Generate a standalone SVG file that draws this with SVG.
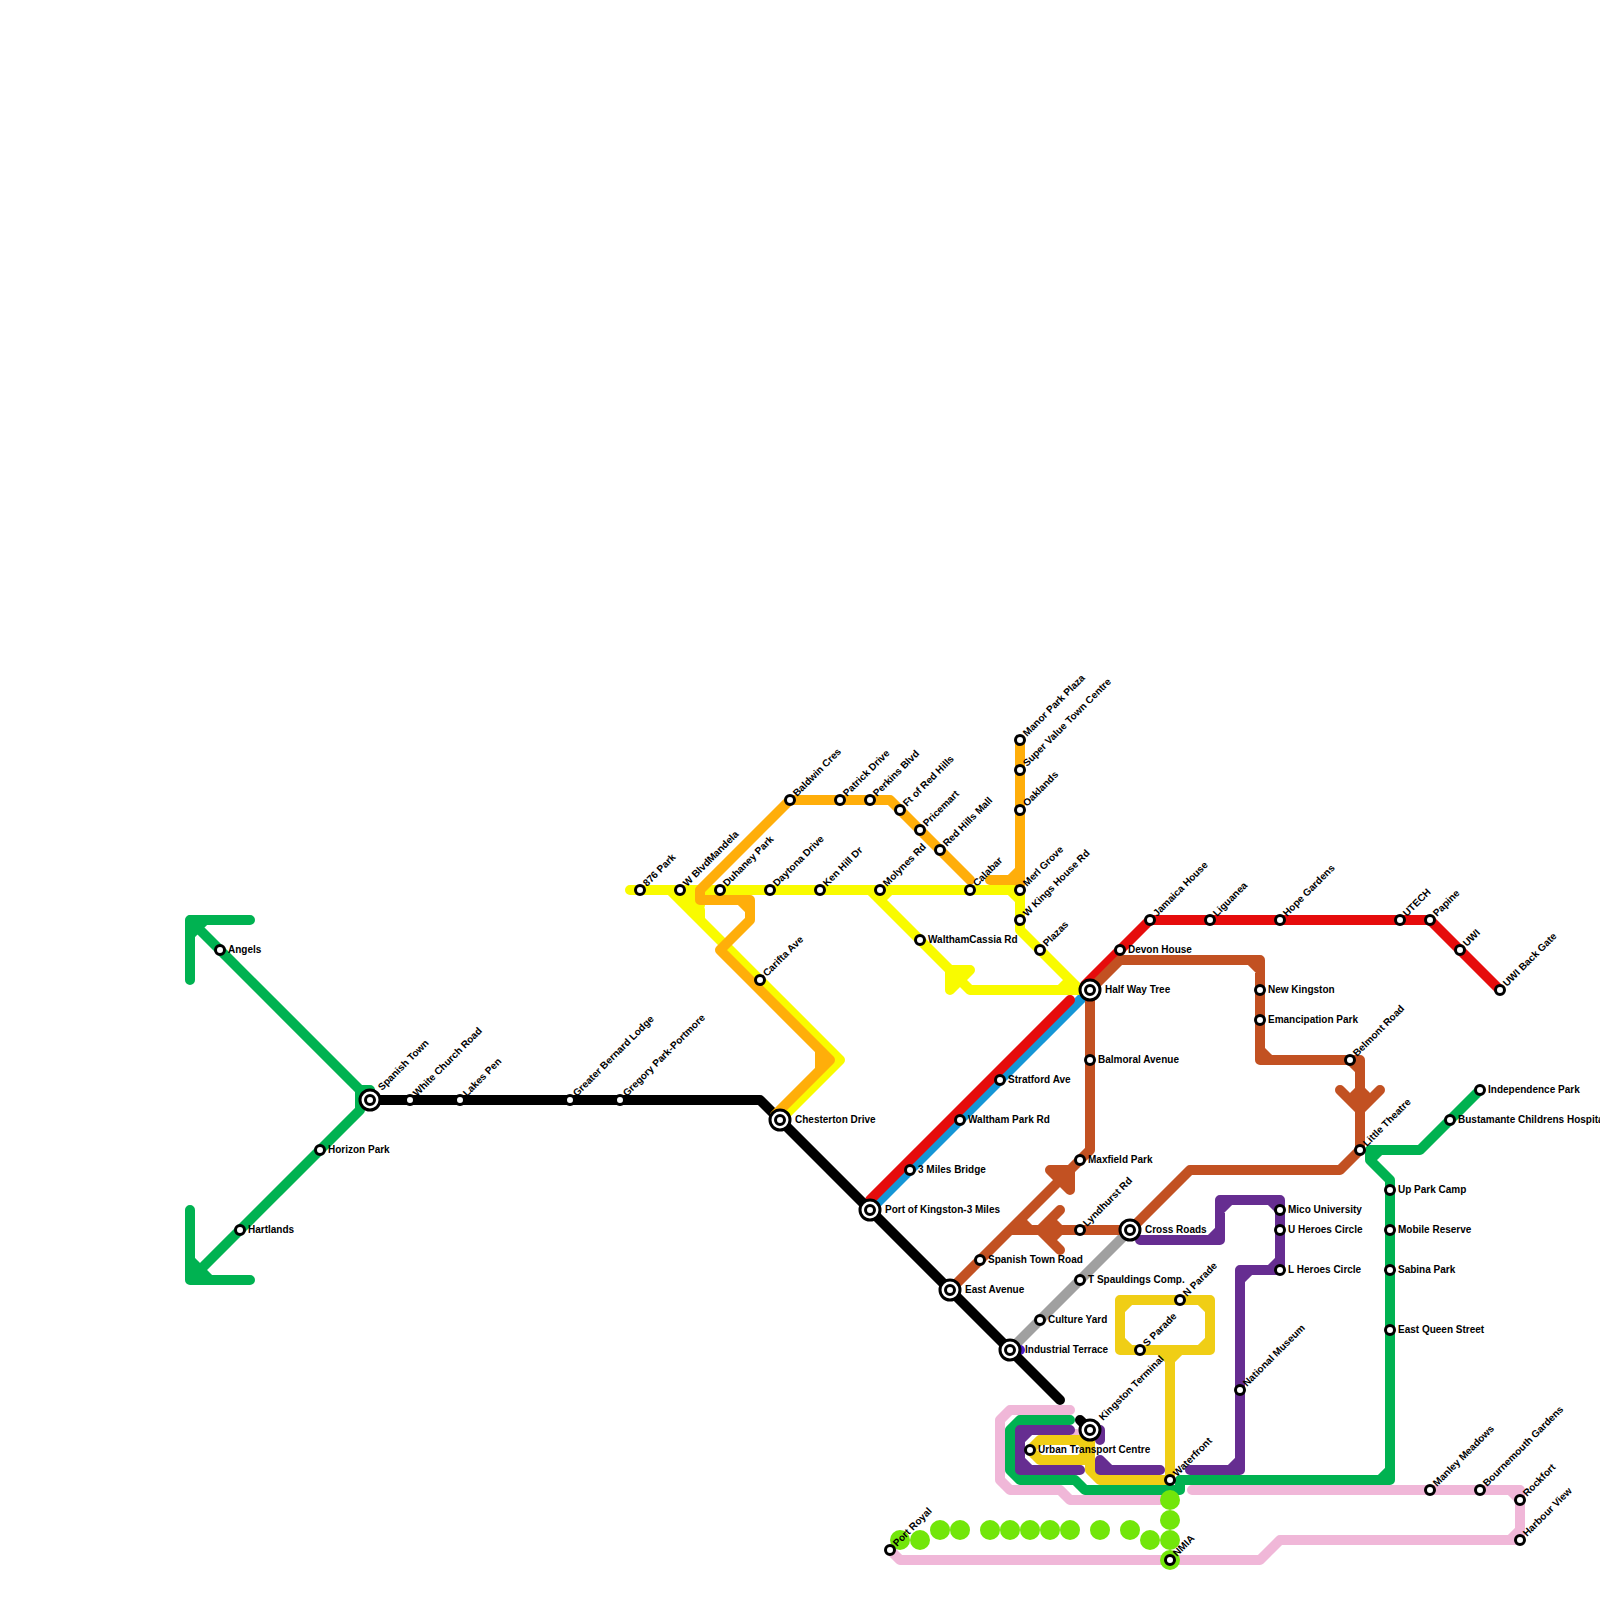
<svg xmlns="http://www.w3.org/2000/svg" width="1600" height="1600" viewBox="0 0 1600 1600">
<style>
.l{fill:none;stroke-width:10;stroke-linecap:round;stroke-linejoin:round}
.pink{stroke:#f0b7d8}.green{stroke:#00b251}.black{stroke:#000}.yellow{stroke:#f9fb00}.orange{stroke:#ffae0a}.red{stroke:#e60c0c}.blue{stroke:#1596d6}.brown{stroke:#c25122}.purple{stroke:#662d91}.gold{stroke:#f0ce15}.grey{stroke:#a0a0a0}.indigo{stroke:#4b1fc8}
.dot{fill:#72e60a}
.s{fill:#fff;stroke:#000;stroke-width:3}
text{font-family:"Liberation Sans",Arial,sans-serif;font-size:10px;font-weight:bold;fill:#000}
</style>
<rect width="1600" height="1600" fill="#fff"/>
<g id="connectors">
<path class="l pink" d="M1070 1410H1010L1000 1420V1480L1010 1490H1060L1070 1500H1160M1192 1490H1520V1540H1280L1260 1560H900L890 1550M1510 1490L1520 1500M1510 1540L1520 1530M1076 1434L1086 1442"/>
<path class="l blue" d="M870 1210L1090 990"/>
<path class="l red" d="M870 1200L1070 1000M1085 985L1150 920H1430L1500 990"/>
<path class="l green" d="M250 920H190V980M190 920L360 1090H370M360 1090V1110L190 1280M190 1210V1280H250M190 935L205 920M190 1260L210 1280M1480 1090L1420 1150H1370V1160L1390 1180V1480H1180V1490H1085L1075 1480H1020L1010 1470V1430L1020 1420H1070M1370 1160L1380 1150M1380 1480L1390 1470"/>
<path class="l grey" d="M1130 1230L1010 1350"/>
<path class="l indigo" d="M1010 1350H1020"/>
<path class="l gold" d="M1170 1350H1120V1300H1210V1350H1170V1480H1100L1090 1470V1440H1040L1030 1450L1040 1460H1090M1120 1310L1130 1300M1200 1300L1210 1310M1210 1340L1200 1350M1130 1350L1120 1340M1160 1350L1170 1360M1180 1350L1170 1360M1080 1440L1090 1450M1080 1460L1090 1450"/>
<path class="l purple" d="M1140 1240H1220V1200H1280V1270H1240V1470H1190M1210 1240L1220 1230M1220 1210L1230 1200M1270 1200L1280 1210M1270 1270L1280 1260M1240 1280L1250 1270M1230 1470L1240 1460M1070 1430H1020V1470H1080M1020 1440L1030 1430M1020 1460L1030 1470M1160 1470H1100V1460L1110 1470M1090 1430H1100V1440"/>
<path class="l brown" d="M1090 990V1150L950 1290M1050 1170H1070V1190ZM1010 1230H1130M1060 1210L1040 1230L1060 1250M1050 1220L1060 1230M1050 1240L1060 1230M1020 1220L1030 1230M1130 1230L1190 1170H1340L1360 1150V1060H1260V960H1120L1090 990M1340 1090L1360 1110L1380 1090M1350 1100L1360 1090M1370 1100L1360 1090M1350 1060L1360 1070M1260 1050L1270 1060M1250 960L1260 970"/>
<path class="l black" d="M370 1100H760L1060 1400M1080 1420L1090 1430"/>
<path class="l yellow" d="M630 890H1020V930L1080 990H970L870 890M1020 930L1080 990H1085M1060 990L1070 980M950 970H970L950 990ZM670 890L840 1060L780 1120M680 890L700 910V920M675 890H685L700 905M1010 890L1020 900M870 890L880 900L890 890"/>
<path class="l orange" d="M1020 740V885M1020 880H990M1010 880L1020 870M790 800H890L970 880M790 800L700 890V900H750V920L720 950L830 1060L775 1115M740 900L750 910M820 1050V1070"/>
</g>
<g id="dots">
<circle class="dot" cx="900" cy="1540" r="10"/><circle class="dot" cx="920" cy="1540" r="10"/><circle class="dot" cx="940" cy="1530" r="10"/><circle class="dot" cx="960" cy="1530" r="10"/><circle class="dot" cx="990" cy="1530" r="10"/><circle class="dot" cx="1010" cy="1530" r="10"/><circle class="dot" cx="1030" cy="1530" r="10"/><circle class="dot" cx="1050" cy="1530" r="10"/><circle class="dot" cx="1070" cy="1530" r="10"/><circle class="dot" cx="1100" cy="1530" r="10"/><circle class="dot" cx="1130" cy="1530" r="10"/><circle class="dot" cx="1150" cy="1540" r="10"/><circle class="dot" cx="1170" cy="1540" r="10"/><circle class="dot" cx="1170" cy="1520" r="10"/><circle class="dot" cx="1170" cy="1500" r="10"/><circle class="dot" cx="1170" cy="1560" r="10"/>
</g>
<defs>
<g id="st"><circle class="s" r="4.5"/></g>
<g id="ix"><circle class="s" r="10"/><circle class="s" r="4.5"/></g>
</defs>
<g id="stations">
<g id="n1"><use href="#st" x="220" y="950"/><text x="228" y="953">Angels</text></g>
<g id="n2"><use href="#st" x="320" y="1150"/><text x="328" y="1153">Horizon Park</text></g>
<g id="n3"><use href="#st" x="240" y="1230"/><text x="248" y="1233">Hartlands</text></g>
<g id="n4"><use href="#ix" x="370" y="1100"/><text transform="translate(382 1091) rotate(-45)">Spanish Town</text></g>
<g id="n5"><use href="#st" x="410" y="1100"/><text transform="translate(417 1097) rotate(-45)">White Church Road</text></g>
<g id="n6"><use href="#st" x="460" y="1100"/><text transform="translate(467 1097) rotate(-45)">Lakes Pen</text></g>
<g id="n7"><use href="#st" x="570" y="1100"/><text transform="translate(577 1097) rotate(-45)">Greater Bernard Lodge</text></g>
<g id="n8"><use href="#st" x="620" y="1100"/><text transform="translate(627 1097) rotate(-45)">Gregory Park-Portmore</text></g>
<g id="n9"><use href="#st" x="640" y="890"/><text transform="translate(647 887) rotate(-45)">876 Park</text></g>
<g id="n10"><use href="#st" x="680" y="890"/><text transform="translate(687 887) rotate(-45)">W BlvdMandela</text></g>
<g id="n11"><use href="#st" x="720" y="890"/><text transform="translate(727 887) rotate(-45)">Duhaney Park</text></g>
<g id="n12"><use href="#st" x="770" y="890"/><text transform="translate(777 887) rotate(-45)">Daytona Drive</text></g>
<g id="n13"><use href="#st" x="820" y="890"/><text transform="translate(827 887) rotate(-45)">Ken Hill Dr</text></g>
<g id="n14"><use href="#st" x="880" y="890"/><text transform="translate(887 887) rotate(-45)">Molynes Rd</text></g>
<g id="n15"><use href="#st" x="790" y="800"/><text transform="translate(797 797) rotate(-45)">Baldwin Cres</text></g>
<g id="n16"><use href="#st" x="840" y="800"/><text transform="translate(847 797) rotate(-45)">Patrick Drive</text></g>
<g id="n17"><use href="#st" x="870" y="800"/><text transform="translate(877 797) rotate(-45)">Perkins Blvd</text></g>
<g id="n18"><use href="#st" x="900" y="810"/><text transform="translate(907 807) rotate(-45)">Ft of Red Hills</text></g>
<g id="n19"><use href="#st" x="920" y="830"/><text transform="translate(927 827) rotate(-45)">Pricemart</text></g>
<g id="n20"><use href="#st" x="940" y="850"/><text transform="translate(947 847) rotate(-45)">Red Hills Mall</text></g>
<g id="n21"><use href="#st" x="970" y="890"/><text transform="translate(977 887) rotate(-45)">Calabar</text></g>
<g id="n22"><use href="#st" x="1020" y="740"/><text transform="translate(1027 737) rotate(-45)">Manor Park Plaza</text></g>
<g id="n23"><use href="#st" x="1020" y="770"/><text transform="translate(1027 767) rotate(-45)">Super Value Town Centre</text></g>
<g id="n24"><use href="#st" x="1020" y="810"/><text transform="translate(1027 807) rotate(-45)">Oaklands</text></g>
<g id="n25"><use href="#st" x="1020" y="890"/><text transform="translate(1027 887) rotate(-45)">Merl Grove</text></g>
<g id="n26"><use href="#st" x="1020" y="920"/><text transform="translate(1027 917) rotate(-45)">W Kings House Rd</text></g>
<g id="n27"><use href="#st" x="1040" y="950"/><text transform="translate(1047 947) rotate(-45)">Plazas</text></g>
<g id="n28"><use href="#st" x="920" y="940"/><text x="928" y="943">WalthamCassia Rd</text></g>
<g id="n29"><use href="#st" x="760" y="980"/><text transform="translate(767 977) rotate(-45)">Carifta Ave</text></g>
<g id="n30"><use href="#ix" x="780" y="1120"/><text x="795" y="1123">Chesterton Drive</text></g>
<g id="n31"><use href="#ix" x="1090" y="990"/><text x="1105" y="993">Half Way Tree</text></g>
<g id="n32"><use href="#st" x="1120" y="950"/><text x="1128" y="953">Devon House</text></g>
<g id="n33"><use href="#st" x="1150" y="920"/><text transform="translate(1157 917) rotate(-45)">Jamaica House</text></g>
<g id="n34"><use href="#st" x="1210" y="920"/><text transform="translate(1217 917) rotate(-45)">Liguanea</text></g>
<g id="n35"><use href="#st" x="1280" y="920"/><text transform="translate(1287 917) rotate(-45)">Hope Gardens</text></g>
<g id="n36"><use href="#st" x="1400" y="920"/><text transform="translate(1407 917) rotate(-45)">UTECH</text></g>
<g id="n37"><use href="#st" x="1430" y="920"/><text transform="translate(1437 917) rotate(-45)">Papine</text></g>
<g id="n38"><use href="#st" x="1460" y="950"/><text transform="translate(1467 947) rotate(-45)">UWI</text></g>
<g id="n39"><use href="#st" x="1500" y="990"/><text transform="translate(1507 987) rotate(-45)">UWI Back Gate</text></g>
<g id="n40"><use href="#st" x="1260" y="990"/><text x="1268" y="993">New Kingston</text></g>
<g id="n41"><use href="#st" x="1260" y="1020"/><text x="1268" y="1023">Emancipation Park</text></g>
<g id="n42"><use href="#st" x="1350" y="1060"/><text transform="translate(1357 1057) rotate(-45)">Belmont Road</text></g>
<g id="n43"><use href="#st" x="1360" y="1150"/><text transform="translate(1367 1147) rotate(-45)">Little Theatre</text></g>
<g id="n44"><use href="#st" x="1480" y="1090"/><text x="1488" y="1093">Independence Park</text></g>
<g id="n45"><use href="#st" x="1450" y="1120"/><text x="1458" y="1123">Bustamante Childrens Hospital</text></g>
<g id="n46"><use href="#st" x="1390" y="1190"/><text x="1398" y="1193">Up Park Camp</text></g>
<g id="n47"><use href="#st" x="1390" y="1230"/><text x="1398" y="1233">Mobile Reserve</text></g>
<g id="n48"><use href="#st" x="1390" y="1270"/><text x="1398" y="1273">Sabina Park</text></g>
<g id="n49"><use href="#st" x="1390" y="1330"/><text x="1398" y="1333">East Queen Street</text></g>
<g id="n50"><use href="#st" x="1090" y="1060"/><text x="1098" y="1063">Balmoral Avenue</text></g>
<g id="n51"><use href="#st" x="1000" y="1080"/><text x="1008" y="1083">Stratford Ave</text></g>
<g id="n52"><use href="#st" x="960" y="1120"/><text x="968" y="1123">Waltham Park Rd</text></g>
<g id="n53"><use href="#st" x="910" y="1170"/><text x="918" y="1173">3 Miles Bridge</text></g>
<g id="n54"><use href="#ix" x="870" y="1210"/><text x="885" y="1213">Port of Kingston-3 Miles</text></g>
<g id="n55"><use href="#st" x="1080" y="1160"/><text x="1088" y="1163">Maxfield Park</text></g>
<g id="n56"><use href="#st" x="1080" y="1230"/><text transform="translate(1087 1227) rotate(-45)">Lyndhurst Rd</text></g>
<g id="n57"><use href="#ix" x="1130" y="1230"/><text x="1145" y="1233">Cross Roads</text></g>
<g id="n58"><use href="#st" x="980" y="1260"/><text x="988" y="1263">Spanish Town Road</text></g>
<g id="n59"><use href="#ix" x="950" y="1290"/><text x="965" y="1293">East Avenue</text></g>
<g id="n60"><use href="#st" x="1080" y="1280"/><text x="1088" y="1283">T Spauldings Comp.</text></g>
<g id="n61"><use href="#st" x="1040" y="1320"/><text x="1048" y="1323">Culture Yard</text></g>
<g id="n62"><use href="#ix" x="1010" y="1350"/><text x="1025" y="1353">Industrial Terrace</text></g>
<g id="n63"><use href="#st" x="1280" y="1210"/><text x="1288" y="1213">Mico University</text></g>
<g id="n64"><use href="#st" x="1280" y="1230"/><text x="1288" y="1233">U Heroes Circle</text></g>
<g id="n65"><use href="#st" x="1280" y="1270"/><text x="1288" y="1273">L Heroes Circle</text></g>
<g id="n66"><use href="#st" x="1180" y="1300"/><text transform="translate(1187 1297) rotate(-45)">N Parade</text></g>
<g id="n67"><use href="#st" x="1140" y="1350"/><text transform="translate(1147 1347) rotate(-45)">S Parade</text></g>
<g id="n68"><use href="#st" x="1240" y="1390"/><text transform="translate(1247 1387) rotate(-45)">National Museum</text></g>
<g id="n69"><use href="#ix" x="1090" y="1430"/><text transform="translate(1103 1421) rotate(-45)">Kingston Terminal</text></g>
<g id="n70"><use href="#st" x="1030" y="1450"/><text x="1038" y="1453">Urban Transport Centre</text></g>
<g id="n71"><use href="#st" x="1170" y="1480"/><text transform="translate(1177 1477) rotate(-45)">Waterfront</text></g>
<g id="n72"><use href="#st" x="1170" y="1560"/><text transform="translate(1177 1557) rotate(-45)">NMIA</text></g>
<g id="n73"><use href="#st" x="890" y="1550"/><text transform="translate(897 1547) rotate(-45)">Port Royal</text></g>
<g id="n74"><use href="#st" x="1430" y="1490"/><text transform="translate(1437 1487) rotate(-45)">Manley Meadows</text></g>
<g id="n75"><use href="#st" x="1480" y="1490"/><text transform="translate(1487 1487) rotate(-45)">Bournemouth Gardens</text></g>
<g id="n76"><use href="#st" x="1520" y="1500"/><text transform="translate(1527 1497) rotate(-45)">Rockfort</text></g>
<g id="n77"><use href="#st" x="1520" y="1540"/><text transform="translate(1527 1537) rotate(-45)">Harbour View</text></g>
</g>
</svg>
